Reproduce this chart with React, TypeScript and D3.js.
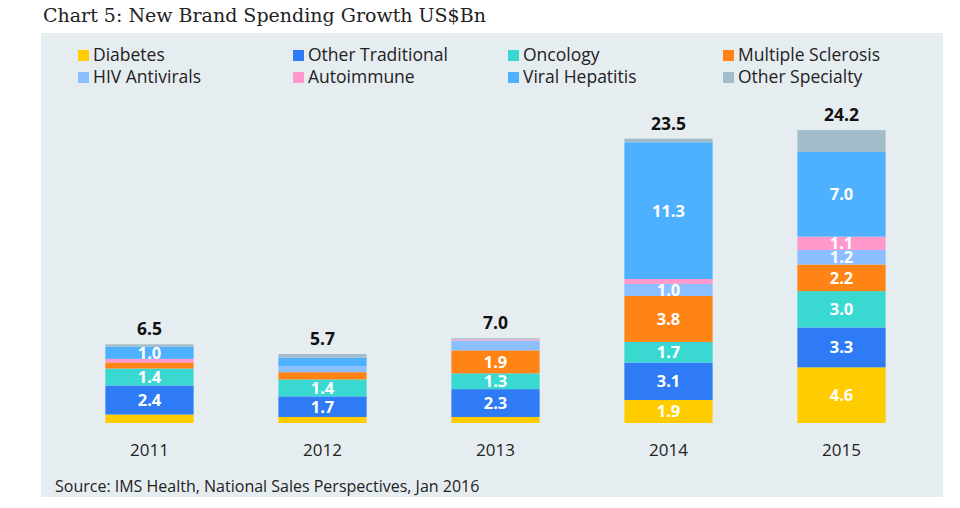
import React from "react";
import * as d3 from "d3";

const years = ["2011", "2012", "2013", "2014", "2015"];
const seriesNames = [
  "Diabetes",
  "Other Traditional",
  "Oncology",
  "Multiple Sclerosis",
  "HIV Antivirals",
  "Autoimmune",
  "Viral Hepatitis",
  "Other Specialty",
];
const diabetes = [0.7, 0.5, 0.5, 1.9, 4.6];
const otherTraditional = [2.4, 1.7, 2.3, 3.1, 3.3];
const oncology = [1.4, 1.4, 1.3, 1.7, 3.0];
const multipleSclerosis = [0.5, 0.6, 1.9, 3.8, 2.2];
const hivAntivirals = [0.0, 0.5, 0.8, 1.0, 1.2];
const autoimmune = [0.3, 0.0, 0.1, 0.4, 1.1];
const viralHepatitis = [1.0, 0.7, 0.0, 11.3, 7.0];
const otherSpecialty = [0.2, 0.3, 0.1, 0.3, 1.8];
const totals = [6.5, 5.7, 7.0, 23.5, 24.2];
const colors = ["#FFCC00", "#2E7BF5", "#39D9D2", "#FF8315", "#8BBFFF", "#FF99CC", "#4DB1FF", "#A3BCC9"];

const seriesValues = [
  diabetes,
  otherTraditional,
  oncology,
  multipleSclerosis,
  hivAntivirals,
  autoimmune,
  viralHepatitis,
  otherSpecialty,
];

export default function App() {
  const W = 960;
  const H = 508;
  const rows = years.map((y, i) => {
    const r: any = { year: y };
    seriesNames.forEach((s, k) => (r[s] = seriesValues[k][i]));
    return r;
  });
  const stacked = d3.stack().keys(seriesNames)(rows);
  const x = d3.scaleBand().domain(years).range([63, 928]).paddingInner(0.49).paddingOuter(0.245);
  const y = d3.scaleLinear().domain([0, 25]).range([423, 120.5]);
  const font = "'Open Sans', sans-serif";

  const legendCols = [78, 293, 508, 723];
  const legendRows = [55, 77];
  const legendOrder = [
    ["Diabetes", "Other Traditional", "Oncology", "Multiple Sclerosis"],
    ["HIV Antivirals", "Autoimmune", "Viral Hepatitis", "Other Specialty"],
  ];

  return (
    <svg width={W} height={H} style={{ position: "absolute", left: 0, top: 0, background: "#fff" }}>
      <text x={43} y={22} fontFamily="'DejaVu Serif', serif" fontSize={19} fill="#222">
        Chart 5: New Brand Spending Growth US$Bn
      </text>
      <rect x={41} y={33} width={902} height={464} fill="#E6EDF1" />
      {legendOrder.map((row, ri) =>
        row.map((name, ci) => {
          const k = seriesNames.indexOf(name);
          return (
            <g key={name}>
              <rect x={legendCols[ci]} y={legendRows[ri] - 5} width={11} height={11} fill={colors[k]} />
              <text x={legendCols[ci] + 15} y={legendRows[ri]} dy="0.35em" fontFamily={font} fontSize={17.5} fill="#222">
                {name}
              </text>
            </g>
          );
        })
      )}
      {stacked.map((layer, k) => (
        <g key={layer.key} fill={colors[k]}>
          {layer.map((d, i) => {
            const y0 = y(d[0]);
            const y1 = y(d[1]);
            if (y0 - y1 <= 0) return null;
            return <rect key={i} x={x(years[i])} y={y1} width={x.bandwidth()} height={y0 - y1} />;
          })}
        </g>
      ))}
      {stacked.map((layer, k) =>
        layer.map((d, i) => {
          const v = seriesValues[k][i];
          if (v < 1 || layer.key === "Other Specialty") return null;
          return (
            <text
              key={layer.key + i}
              x={(x(years[i]) as number) + x.bandwidth() / 2}
              y={(y(d[0]) + y(d[1])) / 2}
              dy="0.36em"
              textAnchor="middle"
              fontFamily={font}
              fontWeight="bold"
              fontSize={16.5}
              fill="#fff"
            >
              {v.toFixed(1)}
            </text>
          );
        })
      )}
      {years.map((yr, i) => (
        <text
          key={"t" + yr}
          x={(x(yr) as number) + x.bandwidth() / 2}
          y={y(totals[i]) - 9}
          textAnchor="middle"
          fontFamily={font}
          fontWeight="bold"
          fontSize={17.5}
          fill="#111"
        >
          {totals[i].toFixed(1)}
        </text>
      ))}
      {years.map((yr) => (
        <text
          key={"x" + yr}
          x={(x(yr) as number) + x.bandwidth() / 2}
          y={456}
          textAnchor="middle"
          fontFamily={font}
          fontSize={17}
          fill="#222"
        >
          {yr}
        </text>
      ))}
      <text x={55} y={492} fontFamily={font} fontSize={16} fill="#222">
        Source: IMS Health, National Sales Perspectives, Jan 2016
      </text>
    </svg>
  );
}
